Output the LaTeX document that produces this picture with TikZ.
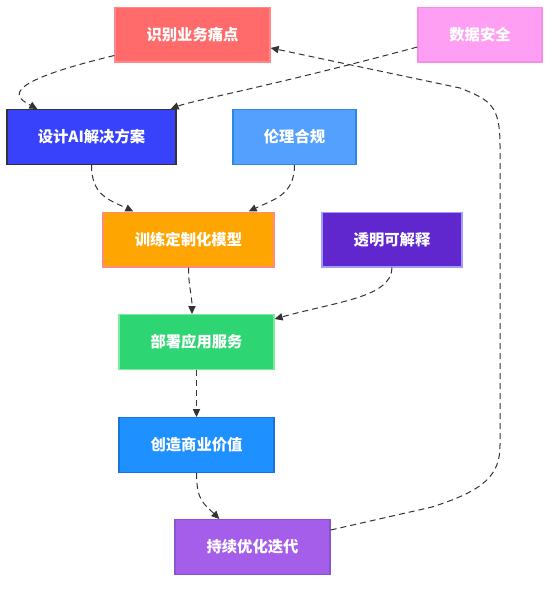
\documentclass[tikz,border=0pt]{standalone}
\usepackage{fontspec}
\setmainfont{Noto Sans CJK SC}
\usetikzlibrary{arrows.meta}

\definecolor{painfill}{HTML}{FF6B6B}
\definecolor{painline}{HTML}{FF8787}
\definecolor{safefill}{HTML}{FF9FF3}
\definecolor{safeline}{HTML}{F88CEB}
\definecolor{designfill}{HTML}{3742FA}
\definecolor{designline}{HTML}{333333}
\definecolor{ethicfill}{HTML}{54A0FF}
\definecolor{ethicline}{HTML}{2E86DE}
\definecolor{trainfill}{HTML}{FFA502}
\definecolor{trainline}{HTML}{FF8A80}
\definecolor{transfill}{HTML}{5F27CD}
\definecolor{transline}{HTML}{A29BFE}
\definecolor{deployfill}{HTML}{2ED573}
\definecolor{deployline}{HTML}{7BED9F}
\definecolor{valuefill}{HTML}{1E90FF}
\definecolor{valueline}{HTML}{1873E0}
\definecolor{iterfill}{HTML}{A55EEA}
\definecolor{iterline}{HTML}{8854D0}
\definecolor{linkgray}{HTML}{333333}

\tikzset{every picture/.style={line width=0.75pt}}
\tikzset{
  flowbox/.style={draw, line width=1pt, text=white, inner sep=0pt,
    minimum height=41pt, font=\fontsize{11.5pt}{14pt}\selectfont\bfseries},
  flowlink/.style={draw=linkgray, line width=0.75pt, dash pattern=on 4.5pt off 3pt,
    -{Triangle[length=6pt,width=5.5pt]}},
}

\begin{document}
\begin{tikzpicture}[x=0.75pt,y=0.75pt,yscale=-1,xscale=1]
\useasboundingbox (0,0) rectangle (557,590);

% Boxes
\node [flowbox, fill=painfill, draw=painline, minimum width=116.25pt] (pain) at (192.5,34.5) {识别业务痛点};
\node [flowbox, fill=safefill, draw=safeline, minimum width=93pt] (safe) at (480,34.5) {数据安全};
\node [flowbox, fill=designfill, draw=designline, minimum width=126.75pt] (design) at (91.5,137) {设计AI解决方案};
\node [flowbox, fill=ethicfill, draw=ethicline, minimum width=92.25pt] (ethic) at (294.5,137) {伦理合规};
\node [flowbox, fill=trainfill, draw=trainline, minimum width=128.25pt] (train) at (188.5,239.5) {训练定制化模型};
\node [flowbox, fill=transfill, draw=transline, minimum width=105pt] (trans) at (392,239.5) {透明可解释};
\node [flowbox, fill=deployfill, draw=deployline, minimum width=116.25pt] (deploy) at (196.5,342) {部署应用服务};
\node [flowbox, fill=valuefill, draw=valueline, minimum width=116.25pt] (value) at (196.5,445) {创造商业价值};
\node [flowbox, fill=iterfill, draw=iterline, minimum width=116.25pt] (iter) at (252.5,547) {持续优化迭代};

% Links
\draw [flowlink] ([yshift=-5.25pt]pain.south west) .. controls +(-125,30) and +(-18,-10) .. ([xshift=23.25pt]design.north west);
\draw [flowlink] ([yshift=9.4pt]safe.west) .. controls +(-150,40) and +(20,-8) .. ([xshift=-4.5pt]design.north east);
\draw [flowlink] (design.south) .. controls +(0,30) and +(-25,-12) .. ([xshift=23.25pt]train.north west);
\draw [flowlink] (ethic.south) .. controls +(0,30) and +(25,-12) .. ([xshift=-19.5pt]train.north east);
\draw [flowlink] (train.south) .. controls +(0,20) and +(0,-20) .. ([xshift=-3.4pt]deploy.north);
\draw [flowlink] (trans.south) .. controls +(0,30) and +(60,-17) .. ([yshift=3.75pt]deploy.north east);
\draw [flowlink] (deploy.south) -- (value.north);
\draw [flowlink] (value.south) .. controls +(0,28) and +(-15,-15) .. ([xshift=33.75pt]iter.north west);

% Loop back
\coordinate (loopa) at (432,507);
\coordinate (loopb) at (500,445);
\coordinate (loopc) at (500,145);
\coordinate (loopd) at (460,88);
\draw [flowlink] ([yshift=8.25pt]iter.north east) -- (loopa) .. controls (485,490) and (500,475) .. (loopb) -- (loopc) .. controls (500,105) and (490,100) .. (loopd) -- ([yshift=10.1pt]pain.east);

\end{tikzpicture}
\end{document}
